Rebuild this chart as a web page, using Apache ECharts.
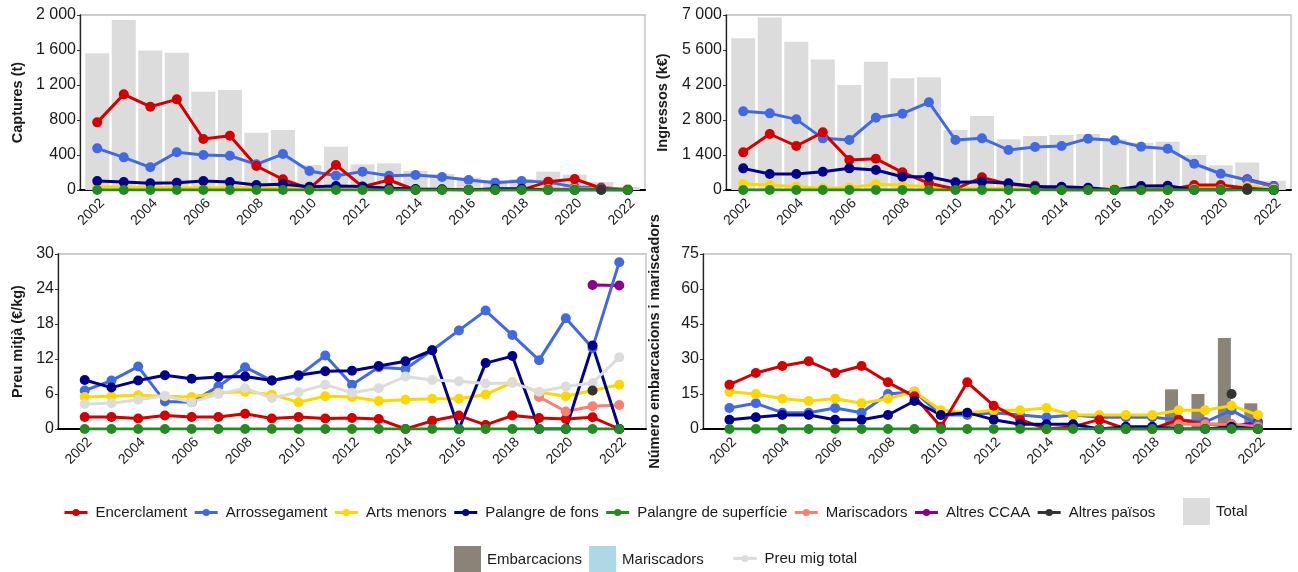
<!DOCTYPE html>
<html><head><meta charset="utf-8">
<script src="https://cdn.jsdelivr.net/npm/echarts@6/dist/echarts.min.js"></script>
<style>html,body{margin:0;padding:0;background:#fff}#c{width:1298px;height:572px}</style>
</head><body><div id="c"></div>
<script>
const years = [2002,2003,2004,2005,2006,2007,2008,2009,2010,2011,2012,2013,2014,2015,2016,2017,2018,2019,2020,2021,2022];
const xTickLabels = [2002,2004,2006,2008,2010,2012,2014,2016,2018,2020,2022];
const N = null;

// Captures (t)
const capTotal = [1562,1943,1593,1570,1124,1143,655,686,285,495,293,305,217,183,140,110,125,210,175,91,35];
const capEnc   = [773,1093,952,1036,583,621,274,122,15,286,38,114,0,3,2,1,2,95,126,20,0];
const capArr   = [476,373,259,431,400,392,293,411,217,164,210,164,171,149,114,84,103,90,35,28,7];
const capArt   = [38,35,30,25,25,30,25,20,12,15,12,10,12,10,8,8,8,12,10,15,12];
const capPfons = [103,91,76,84,103,91,57,65,38,46,40,19,11,8,0,15,15,0,0,3,0];
const capPsup  = [0,0,0,0,0,0,0,0,0,0,0,0,0,0,0,0,0,0,0,0,0];
const capMar   = [N,N,N,N,N,N,N,N,N,N,N,N,N,N,N,N,N,12,8,6,4];
const capCCAA  = [N,N,N,N,N,N,N,N,N,N,N,N,N,N,N,N,N,N,N,15,6];
const capPais  = [N,N,N,N,N,N,N,N,N,N,N,N,N,N,N,N,N,N,N,2,N];

// Ingressos (k€)
const incTotal = [6066,6905,5932,5225,4200,5132,4466,4506,2400,2960,2027,2160,2200,2240,2027,1893,1933,1400,990,1100,370];
const incEnc   = [1506,2240,1760,2306,1200,1253,706,267,40,506,227,173,0,6,5,2,4,200,200,67,0];
const incArr   = [3146,3066,2826,2066,2000,2893,3053,3506,2000,2066,1600,1720,1760,2053,1986,1733,1653,1050,650,400,140];
const incArt   = [240,200,133,67,93,227,187,133,67,67,60,45,45,45,40,45,60,100,107,150,50];
const incPfons = [866,640,640,733,866,800,533,533,307,333,267,133,133,93,0,160,173,0,0,27,0];
const incPsup  = [0,0,0,0,0,0,0,0,0,0,0,0,0,0,0,0,0,0,0,0,0];
const incMar   = [N,N,N,N,N,N,N,N,N,N,N,N,N,N,N,N,N,50,30,25,15];
const incCCAA  = [N,N,N,N,N,N,N,N,N,N,N,N,N,N,N,N,N,N,N,430,160];
const incPais  = [N,N,N,N,N,N,N,N,N,N,N,N,N,N,N,N,N,N,N,14,N];

// Preu mitjà (€/kg)
const prEnc   = [2.05,2.05,1.8,2.3,2.05,2.05,2.6,1.8,2.05,1.8,1.9,1.7,0,1.4,2.3,0.7,2.3,1.9,1.7,2.0,0];
const prArr   = [6.6,8.3,10.7,4.7,4.6,7.3,10.6,8.3,9.1,12.6,7.6,10.6,10.3,13.5,16.9,20.3,16.1,11.8,19.0,13.9,28.6];
const prArt   = [5.5,5.6,5.8,5.6,5.5,6.2,6.4,5.9,4.6,5.6,5.5,4.8,5.0,5.2,5.2,5.9,8.0,6.3,5.6,6.6,7.6];
const prPfons = [8.4,7.1,8.3,9.2,8.6,8.9,9.0,8.3,9.2,9.9,10.0,10.8,11.6,13.5,0,11.3,12.5,0,0,14.3,0];
const prPsup  = [0,0,0,0,0,0,0,0,0,0,0,0,0,0,0,0,0,0,0,0,0];
const prMar   = [N,N,N,N,N,N,N,N,N,N,N,N,N,N,N,N,N,5.5,3.0,3.9,4.1];
const prCCAA  = [N,N,N,N,N,N,N,N,N,N,N,N,N,N,N,N,N,N,N,24.7,24.6];
const prPais  = [N,N,N,N,N,N,N,N,N,N,N,N,N,N,N,N,N,N,N,6.6,N];
const prTotal = [4.3,4.4,5.0,5.7,4.6,6.0,7.0,5.3,6.3,7.6,6.2,7.0,9.0,8.4,8.2,7.8,7.9,6.4,7.3,7.9,12.3];

// Número embarcacions i mariscadors
const nEnc   = [19,24,27,29,24,27,20,14,1,20,10,4,0,1,4,0,0,4,2,2,0];
const nArr   = [9,11,7,7,9,7,15,16,6,6,7,6,5,6,5,5,5,4,3,8,2];
const nArt   = [16,15,13,12,13,11,13,16,8,7,8,8,9,6,6,6,6,8,8,10,6];
const nPfons = [4,5,6,6,4,4,6,12,6,7,4,2,2,2,0,1,1,0,0,1,0];
const nPsup  = [0,0,0,0,0,0,0,0,0,0,0,0,0,0,0,0,0,0,0,0,0];
const nMar   = [N,N,N,N,N,N,N,N,N,N,N,N,N,N,N,N,N,2,2,2,1];
const nCCAA  = [N,N,N,N,N,N,N,N,N,N,N,N,N,N,N,N,N,N,N,1,3];
const nPais  = [N,N,N,N,N,N,N,N,N,N,N,N,N,N,N,N,N,N,N,15,N];
const nEmbarcacions = [N,N,N,N,N,N,N,N,N,N,N,N,N,N,N,N,N,17,15,39,11];
const nMariscadorsBar = [N,N,N,N,N,N,N,N,N,N,N,N,N,N,N,N,N,N,N,N,N];

const C = {
  'Encerclament':'#d40000','Arrossegament':'#4169e1','Arts menors':'#ffd700',
  'Palangre de fons':'#00008b','Palangre de superfície':'#228b22','Mariscadors':'#fa8072',
  'Altres CCAA':'#8b008b','Altres països':'#333333','Total':'#dcdcdc',
  'Embarcacions':'#8b8378','Mariscadors ':'#add8e6','Preu mig total':'#dcdcdc'
};
const FONT = '"Liberation Sans", Arial, sans-serif';
const TXT = '#1a1a1a';

function pairs(arr){ return years.map((y,i)=>[y,arr[i]]).filter(d=>d[1]!==null); }
function line(name, arr, g){
  return {type:'line', name, xAxisIndex:g, yAxisIndex:g, data:pairs(arr),
    symbol:'circle', symbolSize:10, showSymbol:true,
    itemStyle:{color:C[name]}, lineStyle:{color:C[name], width:3}, animation:false};
}
function bar(name, arr, g, w){
  return {type:'bar', name, xAxisIndex:g, yAxisIndex:g, data:pairs(arr), barWidth:w,
    itemStyle:{color:C[name]}, animation:false};
}
function sepFmt(v){ return v>=1000 ? String(v).replace(/(\d)(?=(\d{3})+$)/g,'$1 ') : String(v); }

const grids = [
  {left:80, top:15, width:565, height:175},
  {left:726, top:15, width:565, height:175},
  {left:58, top:254, width:588, height:175},
  {left:703, top:254, width:588, height:175}
].map(g=>Object.assign(g,{show:true, borderColor:'#bdbdbd', borderWidth:1.3, backgroundColor:'transparent'}));

const xRanges = [[2001.35,2022.65],[2001.35,2022.65],[2001.0,2023.0],[2001.0,2023.25]];
const xAxes = xRanges.map((r,i)=>({type:'value', gridIndex:i, min:r[0], max:r[1],
  axisLine:{show:true, onZero:false, lineStyle:{color:'#000', width:2}},
  axisTick:{show:true, length:3, customValues:xTickLabels, lineStyle:{color:'#333'}},
  axisLabel:{customValues:xTickLabels, rotate:45, align:'right', verticalAlign:'top', margin:6,
    fontSize:14, fontFamily:FONT, color:TXT, formatter:v=>String(v)},
  splitLine:{show:false}}));

const yDefs = [
  {max:2000, interval:400, name:'Captures (t)', gap:55},
  {max:7000, interval:1400, name:'Ingressos (k€)', gap:56},
  {max:30, interval:6, name:'Preu mitjà (€/kg)', gap:33},
  {max:75, interval:15, name:'Número embarcacions i mariscadors', gap:41}
];
const yAxes = yDefs.map((d,i)=>({type:'value', gridIndex:i, min:0, max:d.max, interval:d.interval,
  name:d.name, nameLocation:'middle', nameGap:d.gap,
  nameTextStyle:{fontSize:14.5, fontWeight:'bold', fontFamily:FONT, color:TXT},
  axisLine:{show:true, lineStyle:{color:'#222', width:1.3}},
  axisTick:{show:true, length:3, lineStyle:{color:'#333'}},
  axisLabel:{fontSize:16, fontFamily:FONT, color:TXT, margin:4, formatter:sepFmt},
  splitLine:{show:false}}));

const series = [];
function panel(g, d){
  series.push(line('Altres CCAA', d.ccaa, g));
  series.push(line('Arrossegament', d.arr, g));
  series.push(line('Arts menors', d.art, g));
  series.push(line('Encerclament', d.enc, g));
  series.push(line('Mariscadors', d.mar, g));
  series.push(line('Palangre de fons', d.pfons, g));
  series.push(line('Palangre de superfície', d.psup, g));
  if (d.total) series.push(line('Preu mig total', d.total, g));
  series.push(line('Altres països', d.pais, g));
}
series.push(bar('Total', capTotal, 0, 24));
panel(0, {ccaa:capCCAA, arr:capArr, art:capArt, enc:capEnc, mar:capMar, pfons:capPfons, psup:capPsup, pais:capPais});
series.push(bar('Total', incTotal, 1, 24));
panel(1, {ccaa:incCCAA, arr:incArr, art:incArt, enc:incEnc, mar:incMar, pfons:incPfons, psup:incPsup, pais:incPais});
panel(2, {ccaa:prCCAA, arr:prArr, art:prArt, enc:prEnc, mar:prMar, pfons:prPfons, psup:prPsup, pais:prPais, total:prTotal});
series.push(bar('Embarcacions', nEmbarcacions, 3, 13));
series.push(bar('Mariscadors ', nMariscadorsBar, 3, 13));
panel(3, {ccaa:nCCAA, arr:nArr, art:nArt, enc:nEnc, mar:nMar, pfons:nPfons, psup:nPsup, pais:nPais});

const legText = {fontSize:15, fontFamily:FONT, color:TXT, padding:[0,0,0,3]};
const legText1 = {fontSize:15, fontFamily:FONT, color:TXT, padding:[0,0,0,1]};
const legends = [
  {data:['Encerclament','Arrossegament','Arts menors','Palangre de fons','Palangre de superfície','Mariscadors','Altres CCAA','Altres països'],
   left:63, top:505, padding:0, itemWidth:23, itemHeight:9, itemGap:6, lineStyle:{width:3}, textStyle:legText, selectedMode:false},
  {data:['Total'], left:1183, top:498, padding:0, icon:'rect', itemWidth:27, itemHeight:27, textStyle:legText1, selectedMode:false},
  {data:['Embarcacions','Mariscadors '], left:454, top:546, padding:0, icon:'rect', itemWidth:27, itemHeight:27, itemGap:7,
   formatter:n=>n.trim(), textStyle:legText1, selectedMode:false},
  {data:['Preu mig total'], left:732, top:551, padding:0, itemWidth:23, itemHeight:9, lineStyle:{width:3}, textStyle:legText, selectedMode:false}
];

const chart = echarts.init(document.getElementById('c'), null, {renderer:'canvas'});
chart.setOption({animation:false, backgroundColor:'#fff', textStyle:{fontFamily:FONT},
  grid:grids, xAxis:xAxes, yAxis:yAxes, legend:legends, series});
</script></body></html>
